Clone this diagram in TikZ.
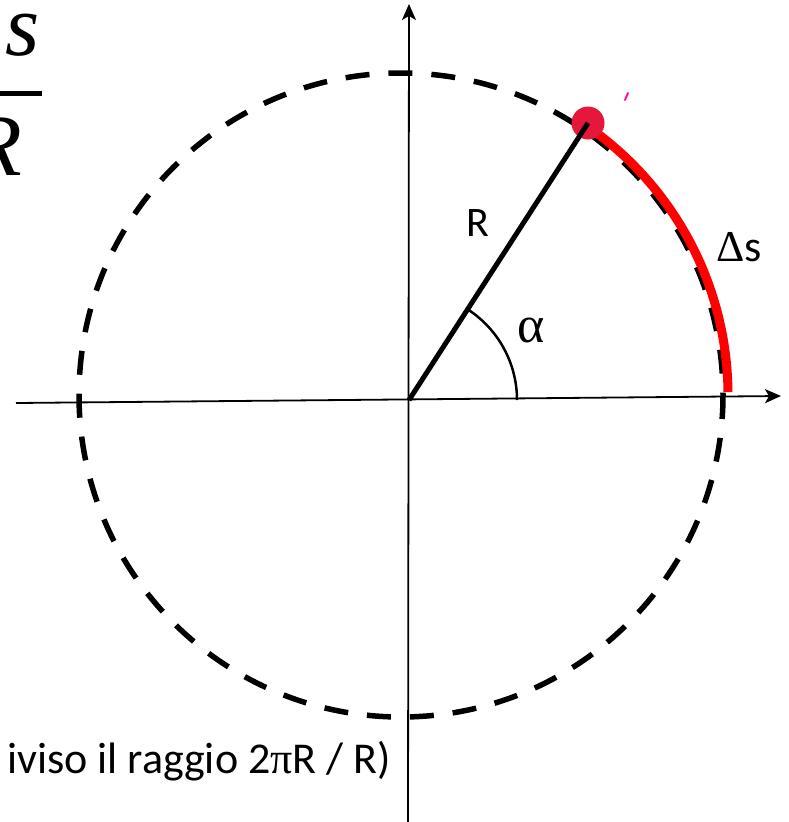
\documentclass[tikz,border=0pt]{standalone}
\usepackage{fontspec}
\setmainfont{Carlito}
\newfontfamily\greekfont{Liberation Serif}
\usetikzlibrary{arrows.meta}
\definecolor{dotred}{HTML}{E5173A}
\definecolor{tickpink}{HTML}{FF1493}
\tikzset{
  axis/.style={line width=1.8pt, -{Stealth[length=16pt,width=14pt,inset=4pt]}},
  dashcircle/.style={line width=5.5pt, dash pattern=on 24pt off 19pt},
  label/.style={inner sep=0pt, font=\fontsize{42}{46}\selectfont}
}
\begin{document}
\begin{tikzpicture}[x=1pt, y=-1pt]
  \useasboundingbox (0,0) rectangle (788,822);
  \clip (0,0) rectangle (788,822);

  % Axes
  \coordinate (O) at (409,400);
  \coordinate (xl) at (16,403);
  \coordinate (xr) at (781,396);
  \coordinate (yb) at (408,830);
  \coordinate (yt) at (409,4);
  \draw[axis] (xl) -- (xr);
  \draw[axis] (yb) -- (yt);

  % Circle and arc
  \coordinate (C) at (401,395);
  \draw[dashcircle] (C) circle[radius=322];
  \draw[red, line width=9pt] (C) ++(-55:327) arc[start angle=-55, end angle=-0.5, radius=327];

  % Radius and point
  \node (P) at (588,123) [circle, fill=dotred, minimum size=33pt, inner sep=0pt] {};
  \draw[line width=5pt] (O) -- (P.center);
  \draw[tickpink, line width=2pt, line cap=round] (628,93) -- (625,100);

  % Angle
  \draw[line width=2.5pt] (O) ++(-57:108) arc[start angle=-57, end angle=0, radius=108];

  % Labels
  \node[label] (lR) at (478,223) {R};
  \node[label, font=\greekfont\fontsize{52}{56}\selectfont] (lalpha) at (531,330) {α};
  \node[label, font=\fontsize{44}{48}\selectfont, anchor=base west] (lds) at (716,261) {{\greekfont Δ}s};

  % Formula and note (cut by the frame)
  \node[inner sep=0pt, anchor=base east, font=\greekfont\itshape\fontsize{88}{90}\selectfont] (fs) at (40,55) {s};
  \node[inner sep=0pt, anchor=base east, font=\greekfont\itshape\fontsize{88}{90}\selectfont] (fR) at (22,175) {R};
  \coordinate (bl) at (0,93);
  \coordinate (br) at (42,93);
  \draw[line width=5pt] (bl) -- (br);
  \node[inner sep=0pt, anchor=base east, font=\fontsize{44}{48}\selectfont] (note) at (391,773) {iviso il raggio 2{\greekfont π}R / R)};
\end{tikzpicture}
\end{document}
